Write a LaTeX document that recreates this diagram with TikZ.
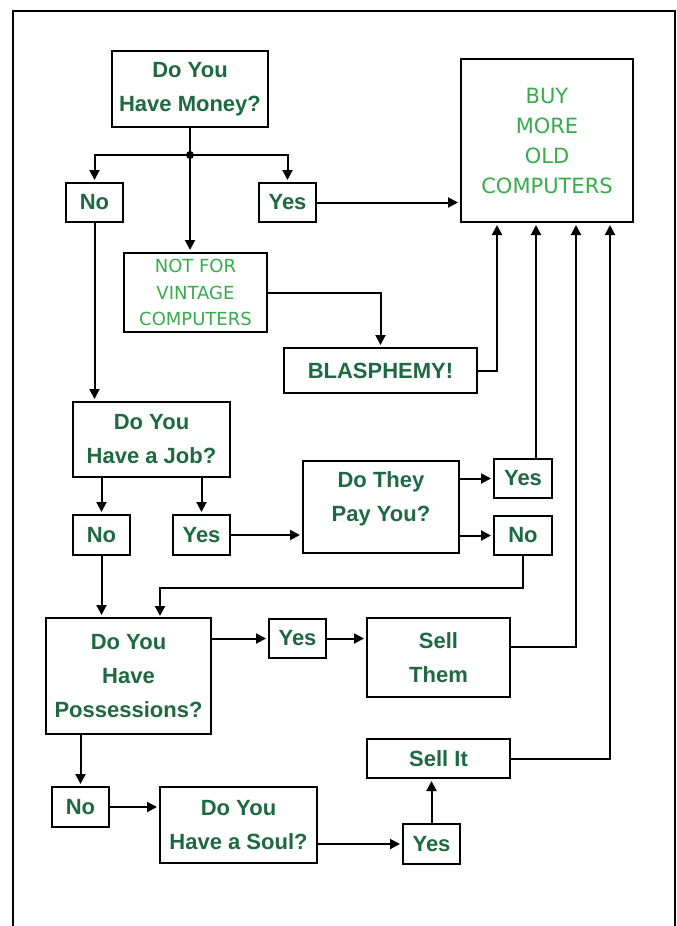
\documentclass[tikz,border=0pt]{standalone}
\usepackage{fontspec}
\setmainfont{Liberation Sans}
\newfontfamily\comicfont{DejaVu Sans}
\usetikzlibrary{arrows.meta,calc}
\definecolor{dg}{RGB}{30,105,65}
\definecolor{lg}{RGB}{55,172,75}
\begin{document}
\begin{tikzpicture}[x=1pt,y=-1pt,
 box/.style={draw=black, line width=2pt, inner sep=0pt, align=center, text=dg, font=\fontsize{22}{34}\selectfont\bfseries},
 cbox/.style={box, text=lg, font=\comicfont\fontsize{21}{30}\selectfont},
 sbox/.style={box, text=lg, font=\comicfont\fontsize{18}{26.5}\selectfont},
 arr/.style={line width=2pt, -{Triangle[length=10pt,width=10pt]}, shorten >=2pt},
 ln/.style={line width=2pt}]
\useasboundingbox (0,0) rectangle (677,926);
\fill[white] (0,0) rectangle (677,926);
\draw[ln] (13,926) -- (13,11) -- (675,11) -- (675,926);

\node[box, minimum width=156pt, minimum height=76pt] (money) at (190,89) {Do You\\Have Money?};
\node[box, minimum width=57pt, minimum height=39pt] (no1) at (94.5,202.5) {No};
\node[box, minimum width=57pt, minimum height=39pt] (yes1) at (287.5,202.5) {Yes};
\node[cbox, minimum width=172pt, minimum height=163pt] (buy) at (547,140.5) {BUY\\MORE\\OLD\\COMPUTERS};
\node[sbox, minimum width=143pt, minimum height=79pt] (notfor) at (195.5,292.5) {NOT FOR\\VINTAGE\\COMPUTERS};
\node[box, minimum width=193pt, minimum height=45pt] (blas) at (380.5,370.5) {BLASPHEMY!};
\node[box, minimum width=157pt, minimum height=75pt] (job) at (151.5,439.5) {Do You\\Have a Job?};
\node[box, minimum width=57pt, minimum height=40pt] (no2) at (101.5,535) {No};
\node[box, minimum width=57pt, minimum height=40pt] (yes2) at (201.5,535) {Yes};
\node[box, minimum width=156pt, minimum height=92pt] (pay) at (381,507) {Do They\\Pay You?\\[-14pt]\mbox{}};
\node[box, minimum width=58pt, minimum height=39pt] (yes3) at (523,478.5) {Yes};
\node[box, minimum width=58pt, minimum height=39pt] (no3) at (523,535.5) {No};
\node[box, minimum width=165pt, minimum height=116pt] (poss) at (128.5,676) {Do You\\Have\\Possessions?};
\node[box, minimum width=57pt, minimum height=39pt] (yes4) at (297.5,638.5) {Yes};
\node[box, minimum width=143pt, minimum height=79pt] (sellthem) at (438.5,657.5) {Sell\\Them};
\node[box, minimum width=57pt, minimum height=40pt] (no4) at (80.5,807) {No};
\node[box, minimum width=157pt, minimum height=76pt] (soul) at (238.5,825) {Do You\\Have a Soul?};
\node[box, minimum width=57pt, minimum height=40pt] (yes5) at (431.5,844) {Yes};
\node[box, minimum width=143pt, minimum height=39pt] (sellit) at (438.5,758.5) {Sell It};

\coordinate (j) at (190,155);
\coordinate (b1) at ([xshift=37pt]buy.south west);
\coordinate (b2) at ([xshift=76pt]buy.south west);
\coordinate (b3) at ([xshift=116pt]buy.south west);
\coordinate (b4) at ([xshift=150pt]buy.south west);
\coordinate (pin) at (160,618);
\coordinate (bend) at (160,588);

\draw[ln] (money.south) -- (j);
\fill (j) circle (4pt);
\draw[arr] (j) -| (no1.north);
\draw[arr] (j) -| (yes1.north);
\draw[arr] (j) -- (j |- notfor.north);
\draw[arr] (yes1.east) -- (yes1.east -| buy.west);
\draw[arr] (notfor.east) -| (blas.north);
\draw[arr] (blas.east) -| (b1);
\draw[arr] (no1.south) -- (no1.south |- job.north);
\draw[arr] (no2.north |- job.south) -- (no2.north);
\draw[arr] (yes2.north |- job.south) -- (yes2.north);
\draw[arr] (yes2.east) -- (yes2.east -| pay.west);
\draw[arr] (yes3.west -| pay.east) -- (yes3.west);
\draw[arr] (no3.west -| pay.east) -- (no3.west);
\draw[arr] (b2 |- yes3.north) -- (b2);
\draw[arr] (no3.south) |- (bend) -- (pin);
\draw[arr] (no2.south) -- (no2.south |- poss.north);
\draw[arr] (yes4.west -| poss.east) -- (yes4.west);
\draw[arr] (yes4.east) -- (yes4.east -| sellthem.west);
\draw[arr] ([yshift=10.5pt]sellthem.east) -| (b3);
\draw[arr] (no4.north |- poss.south) -- (no4.north);
\draw[arr] (no4.east) -- (no4.east -| soul.west);
\draw[arr] (yes5.west -| soul.east) -- (yes5.west);
\draw[arr] (yes5.north) -- (yes5.north |- sellit.south);
\draw[arr] (sellit.east) -| (b4);
\end{tikzpicture}
\end{document}
